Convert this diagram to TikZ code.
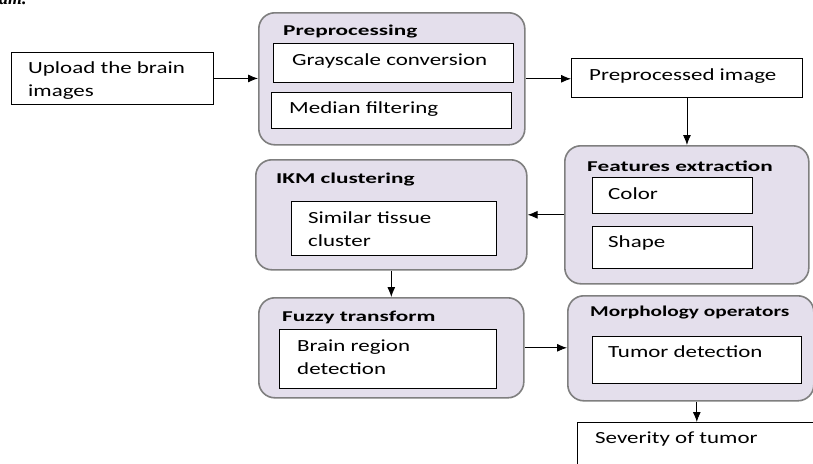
\documentclass[tikz,border=0pt]{standalone}
\usepackage{fontspec}
\setmainfont{Carlito}
\newfontfamily\captionface{Liberation Serif}
\newfontfamily\bodyface[FakeStretch=1.35]{Carlito}
\newfontfamily\headface[FakeStretch=1.55]{Carlito}
\newfontfamily\headnarrow[FakeStretch=1.42]{Carlito}
\usetikzlibrary{arrows.meta}
\definecolor{panelfill}{HTML}{E4DFEC}
\definecolor{panelline}{HTML}{7F7F7F}
\begin{document}
\begin{tikzpicture}[x=1pt,y=-1pt,
  panel/.style={draw=panelline, fill=panelfill, line width=1.6pt, rounded corners=16pt, inner sep=0pt, anchor=north west},
  itembox/.style={draw=black, fill=white, line width=0.9pt, inner sep=0pt, anchor=north west},
  body/.style={font=\bodyface\fontsize{17}{23}\selectfont, inner sep=0pt, anchor=west, align=left},
  head/.style={font=\headface\bfseries\fontsize{15}{17}\selectfont, inner sep=0pt, anchor=west},
  flow/.style={-{Latex[length=10pt,width=8pt]}, line width=0.9pt}]
\useasboundingbox[fill=white] (0,0) rectangle (813,463);

% caption fragment at the top edge
\node[font=\captionface\bfseries\itshape\fontsize{18}{20}\selectfont, inner sep=0pt, anchor=base west] (cap) at (-1,5) {am.};

% input
\node[itembox, minimum width=202pt, minimum height=52pt] (upload) at (11,52) {};
\node[body] (uploadtxt) at (28,80.5) {Upload the brain\\images};

% preprocessing stage
\node[panel, minimum width=266pt, minimum height=132pt] (pre) at (258,12) {};
\node[head] (pretitle) at (283,32) {Preprocessing};
\node[itembox, minimum width=240pt, minimum height=39pt] (gray) at (273,43) {};
\node[body] (graytxt) at (292,61) {Grayscale conversion};
\node[itembox, minimum width=240pt, minimum height=36pt] (median) at (271,92) {};
\node[body] (mediantxt) at (289,109) {Median filtering};

% preprocessed image
\node[itembox, minimum width=231pt, minimum height=39pt] (ppi) at (571,58) {};
\node[body] (ppitxt) at (589,76) {Preprocessed image};

% features extraction
\node[panel, minimum width=244pt, minimum height=138pt] (feat) at (564,145) {};
\node[head] (feattitle) at (587,166) {Features extraction};
\node[itembox, minimum width=160pt, minimum height=36pt] (color) at (592,177) {};
\node[body] (colortxt) at (608,194) {Color};
\node[itembox, minimum width=160pt, minimum height=42pt] (shape) at (592,226) {};
\node[body] (shapetxt) at (608,243) {Shape};

% IKM clustering
\node[panel, minimum width=271pt, minimum height=110pt] (ikm) at (255,159) {};
\node[head] (ikmtitle) at (276,180) {IKM clustering};
\node[itembox, minimum width=205pt, minimum height=54pt] (tissue) at (291,201) {};
\node[body] (tissuetxt) at (308,229) {Similar tissue\\cluster};

% fuzzy transform
\node[panel, minimum width=265pt, minimum height=100pt] (fuzzy) at (258,297) {};
\node[head] (fuzzytitle) at (282,317) {Fuzzy transform};
\node[itembox, minimum width=217pt, minimum height=59pt] (region) at (279,329) {};
\node[body] (regiontxt) at (297,357.5) {Brain region\\detection};

% morphology operators
\node[panel, minimum width=246pt, minimum height=105pt] (morph) at (567,295) {};
\node[head, font=\headnarrow\bfseries\fontsize{15}{17}\selectfont] (morphtitle) at (590,313) {Morphology operators};
\node[itembox, minimum width=209pt, minimum height=47pt] (tumor) at (592,336) {};
\node[body] (tumortxt) at (608,352) {Tumor detection};

% output
\node[itembox, minimum width=260pt, minimum height=60pt] (sev) at (577,422) {};
\node[body] (sevtxt) at (595,439) {Severity of tumor};

% connectors
\draw[flow] (upload.east) -- (upload.east -| pre.west);
\draw[flow] (pre.east) -- (pre.east -| ppi.west);
\draw[flow] (ppi.south) -- (ppi.south |- feat.north);
\draw[flow] (feat.west) -- (feat.west -| ikm.east);
\draw[flow] (ikm.south) -- (ikm.south |- fuzzy.north);
\draw[flow] (fuzzy.east) -- (fuzzy.east -| morph.west);
\draw[flow] ([xshift=6pt]morph.south) -- ([xshift=6pt]morph.south |- sev.north);
\end{tikzpicture}
\end{document}
